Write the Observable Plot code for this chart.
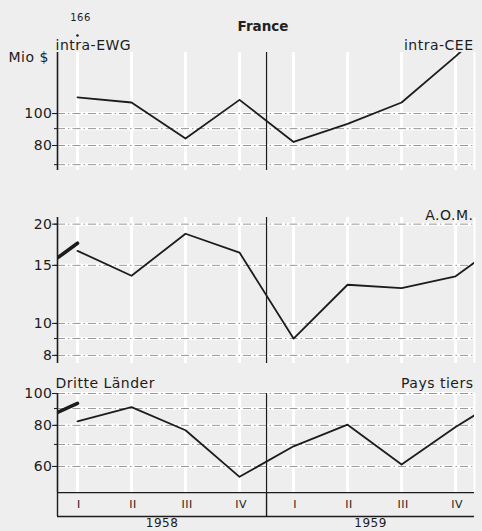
<!DOCTYPE html>
<html><head><meta charset="utf-8">
<script src="https://cdn.jsdelivr.net/npm/d3@7"></script>
<script src="https://cdn.jsdelivr.net/npm/@observablehq/plot@0.6"></script>
<style>
html,body{margin:0;padding:0;background:#eeeeee;}
#wrap{position:relative;width:482px;height:531px;background:#eeeeee;overflow:hidden;font-family:"DejaVu Sans",sans-serif;color:#222;}
#wrap svg{position:absolute;left:0;}
#title{position:absolute;left:0;width:526px;top:18px;text-align:center;font-weight:bold;font-size:13.5px;}
#wrap svg text{letter-spacing:0.5px;}
.strip > g:nth-of-type(3) text{letter-spacing:3px;}
</style></head>
<body><div id="wrap"><div id="title">France</div></div>
<script>
// ---- data ----
const quarterLabels = ["I","II","III","IV","I","II","III","IV"];
const quarterPos = [0,1,2,3,4,5,6,7];
const yearLabels = ["1958","1959"];
const xDomain = [-0.37, 7.35];
const yearDivider = 3.5;

// intra-EWG / intra-CEE (Mio $)
const intraX = [0,1,2,3,4,5,6,7,7.35];
const intraValues = [112, 108, 84, 110, 82, 93, 108, 149, 168];
const intraTicks = [100, 80];
const intraGrid = [100, 90, 80, 70];
const intraNote = [{q: 0, label: "166"}];

// A.O.M.
const aomX = [0,1,2,3,4,5,6,7,7.35];
const aomValues = [16.6, 13.95, 18.7, 16.4, 9.0, 13.1, 12.8, 13.9, 15.3];
const aomPrevX = [-0.37, 0];
const aomPrevValues = [15.8, 17.5];
const aomTicks = [20, 15, 10, 8];
const aomGrid = [20, 15, 10, 9, 8];

// Dritte Länder / Pays tiers
const thirdX = [0,1,2,3,4,5,6,7,7.35];
const thirdValues = [82.3, 90.9, 77.3, 55.8, 69.1, 80.4, 60.8, 79.1, 85.8];
const thirdPrevX = [-0.37, 0];
const thirdPrevValues = [87.6, 93.3];
const thirdTicks = [100, 80, 60];
const thirdGrid = [100, 90, 80, 70, 60];

// ---- helpers ----
const toRows = (xs, vs) => xs.map((x, i) => ({x, v: vs[i]}));
const INK = "#1c1c1c";

function label(text, anchor, dx, dy, size = 14) {
  return Plot.text([text], {text: d => d, frameAnchor: anchor, lineAnchor: "middle",
    textAnchor: anchor.endsWith("right") ? "end" : "start", dx, dy, fontSize: size, fill: INK});
}

function panel({top, height, marginTop, marginBottom, domain, ticks, grid, rows, prev, extra = []}) {
  const marks = [
    Plot.ruleX(quarterPos, {stroke: "white", strokeWidth: 3}),
    Plot.ruleX([xDomain[1]], {stroke: "white", strokeWidth: 2}),
    Plot.ruleY(grid, {stroke: "white", strokeWidth: 3}),
    Plot.ruleY(grid, {stroke: "#8a8a8a", strokeWidth: 0.9, strokeDasharray: "8,3,1.5,3"}),
    Plot.ruleX([yearDivider], {stroke: INK, strokeWidth: 1.2}),
    Plot.ruleX([xDomain[0]], {stroke: INK, strokeWidth: 1.6}),
    Plot.axisY(grid, {tickSize: 3, tickFormat: () => "", label: null, stroke: INK}),
    Plot.axisY(ticks, {tickSize: 5, tickFormat: () => "", label: null, stroke: INK}),
    Plot.text(ticks, {y: d => d, text: d => String(d), frameAnchor: "left", textAnchor: "end", dx: -5, fontSize: 14, fill: INK}),
    Plot.line(rows, {x: "x", y: "v", stroke: INK, strokeWidth: 1.8, clip: true})
  ];
  if (prev) marks.push(Plot.line(prev, {x: "x", y: "v", stroke: INK, strokeWidth: 3.6, clip: true}));
  marks.push(...extra);
  const svg = Plot.plot({
    width: 482, height, marginLeft: 57, marginRight: 8, marginTop, marginBottom,
    x: {domain: xDomain, axis: null},
    y: {type: "log", domain, axis: null},
    style: {background: "transparent", fontFamily: "DejaVu Sans, sans-serif", fontSize: "13px", color: INK},
    marks
  });
  svg.style.top = top + "px";
  document.getElementById("wrap").appendChild(svg);
}

// Panel 1
panel({
  top: 0, height: 172, marginTop: 52, marginBottom: 2,
  domain: [67.2, 153.1], ticks: intraTicks, grid: intraGrid,
  rows: toRows(intraX, intraValues),
  extra: [
    label("intra-EWG", "top-left", -2, -7),
    label("intra-CEE", "top-right", -1, -7),
    label("Mio $", "top-left", -49, 5),
    Plot.text(intraNote, {x: "q", text: "label", frameAnchor: "top", lineAnchor: "middle", dx: 3, dy: -35, fontSize: 10, fill: INK}),
    Plot.dot(intraNote, {x: "q", frameAnchor: "top", dy: -17, r: 1.3, fill: INK})
  ]
});

// Panel 2
panel({
  top: 200, height: 165, marginTop: 17, marginBottom: 2,
  domain: [7.56, 20.95], ticks: aomTicks, grid: aomGrid,
  rows: toRows(aomX, aomValues), prev: toRows(aomPrevX, aomPrevValues),
  extra: [label("A.O.M.", "top-right", -1, -2)]
});

// Panel 3
panel({
  top: 370, height: 122, marginTop: 23, marginBottom: 0,
  domain: [50, 100], ticks: thirdTicks, grid: thirdGrid,
  rows: toRows(thirdX, thirdValues), prev: toRows(thirdPrevX, thirdPrevValues),
  extra: [
    label("Dritte Länder", "top-left", -2, -10),
    label("Pays tiers", "top-right", -1, -10)
  ]
});

// Quarter / year strip
const yearCenters = [(xDomain[0] + yearDivider) / 2, (yearDivider + xDomain[1]) / 2];
const strip = Plot.plot({
  width: 482, height: 39, marginLeft: 57, marginRight: 8, marginTop: 0, marginBottom: 15,
  className: "strip",
  x: {domain: xDomain, axis: null},
  y: {domain: [0, 1], axis: null},
  style: {background: "transparent", fontFamily: "DejaVu Sans, sans-serif", fontSize: "12px", color: INK},
  marks: [
    Plot.ruleY([0, 1], {stroke: INK, strokeWidth: 1.4}),
    Plot.ruleX([xDomain[0], yearDivider], {stroke: INK, strokeWidth: 1.4}),
    Plot.text(quarterPos, {x: d => d, y: 0.5, text: (d, i) => quarterLabels[i], dx: 1.5, fontSize: 11, fill: INK}),
    Plot.text(yearLabels, {x: (d, i) => yearCenters[i], text: d => d, frameAnchor: "bottom", lineAnchor: "middle", dy: 7, fontSize: 12, fill: INK})
  ]
});
strip.style.top = "492px";
document.getElementById("wrap").appendChild(strip);
</script>
</body></html>
